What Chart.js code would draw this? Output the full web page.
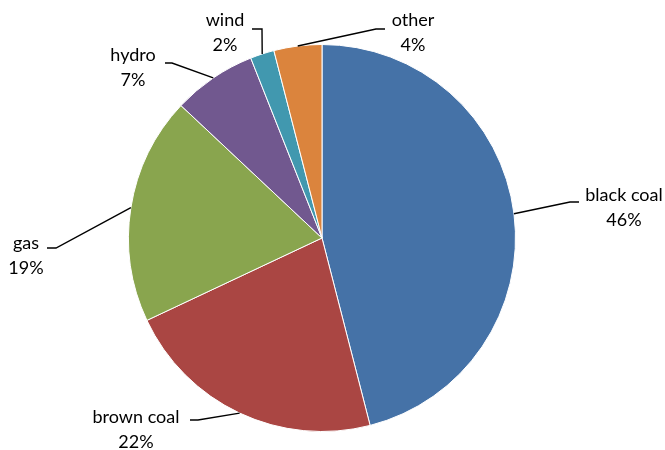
<!DOCTYPE html>
<html>
<head>
<meta charset="utf-8">
<script src="https://cdn.jsdelivr.net/npm/chart.js@4"></script>
<style>
  html, body { margin: 0; padding: 0; background: #fff; }
  #wrap { width: 665px; height: 450px; }
</style>
</head>
<body>
<div id="wrap"><canvas id="mixChart"></canvas></div>
<script>
// generation mix, percent
const sources = ['black coal', 'brown coal', 'gas', 'hydro', 'wind', 'other'];
const shares = [46, 22, 19, 7, 2, 4];
const sliceColors = ['#4572A7', '#AA4643', '#89A54E', '#71588F', '#4198AF', '#DB843D'];

// where each label sits: text centre, elbow and end of the leader line
const labelLayout = [
  { tx: 624, ty: 195, elbow: [570, 202], end: [579, 202] },
  { tx: 136, ty: 417, elbow: [198, 420], end: [190, 420] },
  { tx: 26,  ty: 243, elbow: [56, 248],  end: [47, 248] },
  { tx: 133, ty: 55,  elbow: [172, 63],  end: [165, 63] },
  { tx: 225, ty: 20,  elbow: [262, 29],  end: [252, 29] },
  { tx: 413, ty: 20,  elbow: [376, 29],  end: [385, 29] }
];

const leaderLabels = {
  id: 'leaderLabels',
  afterDatasetsDraw(chart) {
    const ctx = chart.ctx;
    const arcs = chart.getDatasetMeta(0).data;
    ctx.save();
    ctx.strokeStyle = '#000';
    ctx.lineWidth = 1.4;
    ctx.fillStyle = '#000';
    ctx.font = '18px Lato, "Open Sans", sans-serif';
    ctx.textAlign = 'center';
    ctx.textBaseline = 'middle';
    arcs.forEach((arc, i) => {
      const p = arc.getProps(['x', 'y', 'startAngle', 'endAngle', 'outerRadius'], true);
      const mid = (p.startAngle + p.endAngle) / 2;
      const ex = p.x + Math.cos(mid) * p.outerRadius;
      const ey = p.y + Math.sin(mid) * p.outerRadius;
      const l = labelLayout[i];
      ctx.beginPath();
      ctx.moveTo(ex, ey);
      ctx.lineTo(l.elbow[0], l.elbow[1]);
      ctx.lineTo(l.end[0], l.end[1]);
      ctx.stroke();
      ctx.fillText(sources[i], l.tx, l.ty);
      ctx.fillText(shares[i] + '%', l.tx, l.ty + 25);
    });
    ctx.restore();
  }
};

new Chart(document.getElementById('mixChart'), {
  type: 'pie',
  data: {
    labels: sources,
    datasets: [{
      data: shares,
      backgroundColor: sliceColors,
      borderColor: '#fff',
      borderWidth: 1
    }]
  },
  options: {
    responsive: true,
    maintainAspectRatio: false,
    animation: false,
    layout: { padding: { left: 128, right: 149, top: 44, bottom: 18 } },
    plugins: {
      legend: { display: false },
      tooltip: { enabled: false }
    }
  },
  plugins: [leaderLabels]
});
</script>
</body>
</html>
